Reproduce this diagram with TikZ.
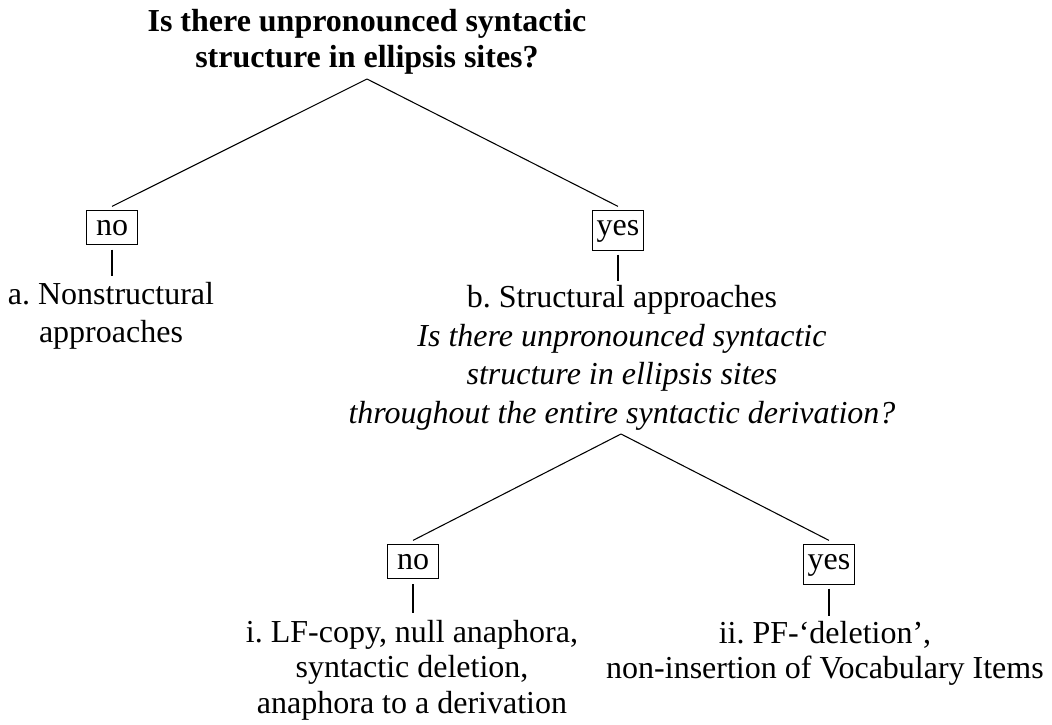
\documentclass[tikz,border=0pt]{standalone}
\usepackage{fontspec}
\setmainfont{Liberation Serif}
\frenchspacing
\begin{document}
\begin{tikzpicture}[x=0.375pt,y=-0.375pt,
  txt/.style={inner sep=0pt, align=center, anchor=base},
  ans/.style={draw, line width=0.4pt, font=\fontsize{12}{14.4}\selectfont,
    inner xsep=1pt, inner ysep=3.375pt, minimum width=19pt, anchor=base},
  link/.style={line width=0.4pt}]
\useasboundingbox (0,0) rectangle (1052,725);

% anchor=base of a multi-line node is the baseline of its last line
\node[txt, font=\bfseries\fontsize{12}{13.5}\selectfont] (q1) at (367,67)
  {Is there unpronounced syntactic\\structure in ellipsis sites?};
\coordinate (A) at (367,79);

\node[ans] (no1) at (112,235) {no};
\node[ans] (yes1) at (618,235) {yes};

\node[txt, font=\fontsize{12}{13.9}\selectfont] (a) at (111,342)
  {a. Nonstructural\\approaches};
\node[txt, font=\fontsize{12}{14.44}\selectfont] (b) at (622,423.5)
  {b. Structural approaches\\
   {\itshape Is there unpronounced syntactic}\\
   {\itshape structure in ellipsis sites}\\
   {\itshape throughout the entire syntactic derivation?}};

\coordinate (B) at (621,434);

\node[ans] (no2) at (413,569) {no};
\node[ans] (yes2) at (829,569) {yes};

\node[txt, font=\fontsize{12}{13.3}\selectfont] (i) at (412,713)
  {i. LF-copy, null anaphora,\\syntactic deletion,\\anaphora to a derivation};
\node[txt, font=\fontsize{12}{13.3}\selectfont] (ii) at (825,678.5)
  {ii. PF-‘deletion’,\\non-insertion of Vocabulary Items};

\draw[link] (A) -- ([yshift=1.5pt]no1.north);
\draw[link] (A) -- ([yshift=1.5pt]yes1.north);
\draw[link] ([yshift=-1.8pt]no1.south) -- ([yshift=2.2pt]no1.south |- a.north);
\draw[link] ([yshift=-1.2pt]yes1.south) -- ([yshift=1.6pt]yes1.south |- b.north);

\draw[link] (B) -- ([yshift=1.5pt]no2.north);
\draw[link] (B) -- ([yshift=1.5pt]yes2.north);
\draw[link] ([yshift=-2pt]no2.south) -- ([yshift=2.5pt]no2.south |- i.north);
\draw[link] ([yshift=-1.2pt]yes2.south) -- ([yshift=1.6pt]yes2.south |- ii.north);
\end{tikzpicture}
\end{document}
